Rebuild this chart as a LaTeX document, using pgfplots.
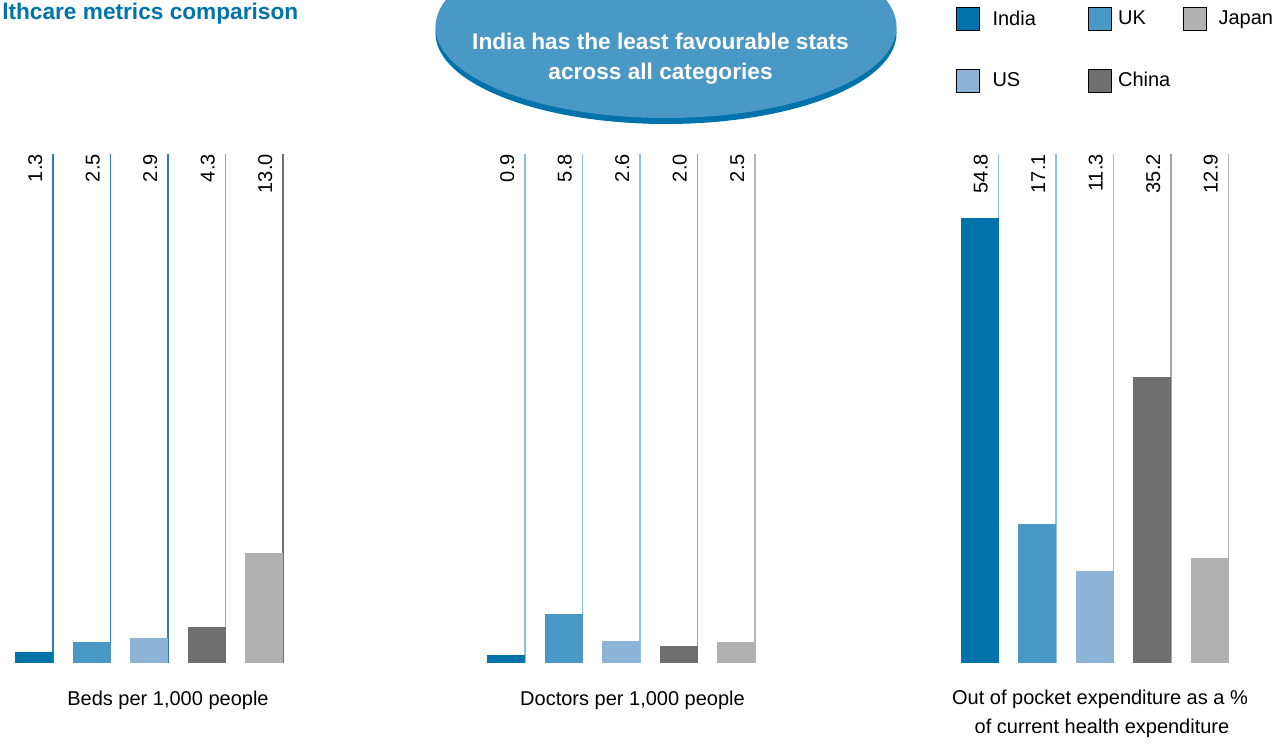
\documentclass[border=0pt]{standalone}
\usepackage{fontspec}
\setmainfont{Liberation Sans}
\usepackage{pgfplots}
\pgfplotsset{compat=1.18}
\definecolor{cIndia}{HTML}{0073AB}
\definecolor{cUK}{HTML}{4A98C6}
\definecolor{cUS}{HTML}{8DB3D7}
\definecolor{cChina}{HTML}{6F6F6F}
\definecolor{cJapan}{HTML}{B1B1B1}
\definecolor{lnBlue}{HTML}{2B7BBA}
\definecolor{lnSky}{HTML}{8AC2DF}
\definecolor{lnGrayA}{HTML}{A3A3A3}
\definecolor{lnGrayB}{HTML}{B5B5B5}
\definecolor{lnDark}{HTML}{707070}
\newcommand{\fs}{\fontsize{15}{18}\selectfont}
\pgfplotsset{
  panel/.style={
    scale only axis, width=215.625pt, height=381.75pt,
    hide axis, clip=false, xmin=-0.5, xmax=4.5, ymin=0,
    anchor=south west,
  },
  vbar/.style={ybar, bar width=28.5pt, bar shift=0pt, fill=#1, draw=none, forget plot},
  vline/.style={no marks, line width=1.1pt, draw=#1, forget plot},
}
\tikzset{vlabel/.style={rotate=90, anchor=base east, inner sep=0pt, font=\fs}}
\begin{document}
\begin{tikzpicture}
\useasboundingbox (0,0) rectangle (955.5pt,558pt);
\clip (0,0) rectangle (955.5pt,558pt);
% title
\node[anchor=base west, inner sep=0pt, text=cIndia, font=\fontsize{17}{20}\selectfont\bfseries] at (1.5pt,543pt) {lthcare metrics comparison};
% callout
\fill[cIndia] (499.5pt,533.25pt) ellipse [x radius=172.9pt, y radius=68.25pt];
\fill[cUK] (499.5pt,537.75pt) ellipse [x radius=172.9pt, y radius=68.25pt];
\node[anchor=base, inner sep=0pt, text=white, font=\fontsize{17}{20}\selectfont\bfseries] at (495.4pt,520.5pt) {India has the least favourable stats};
\node[anchor=base, inner sep=0pt, text=white, font=\fontsize{17}{20}\selectfont\bfseries] at (495.4pt,498pt) {across all categories};

% Panel 1: Beds per 1,000 people
\begin{axis}[panel, ymax=60, at={(3.94pt,60.75pt)}]
\addplot[vline=lnBlue] coordinates {(0.33,0) (0.33,60)};
\addplot[vline=lnBlue] coordinates {(1.33,0) (1.33,60)};
\addplot[vline=lnBlue] coordinates {(2.33,0) (2.33,60)};
\addplot[vline=lnGrayA] coordinates {(3.33,0) (3.33,60)};
\addplot[vline=lnDark] coordinates {(4.33,0) (4.33,60)};
\addplot[vbar=cIndia] coordinates {(0,1.3)};
\addplot[vbar=cUK] coordinates {(1,2.5)};
\addplot[vbar=cUS] coordinates {(2,2.9)};
\addplot[vbar=cChina] coordinates {(3,4.3)};
\addplot[vbar=cJapan] coordinates {(4,13.0)};
\node[vlabel] at (axis cs:0.14,60) {1.3};
\node[vlabel] at (axis cs:1.14,60) {2.5};
\node[vlabel] at (axis cs:2.14,60) {2.9};
\node[vlabel] at (axis cs:3.14,60) {4.3};
\node[vlabel] at (axis cs:4.14,60) {13.0};
\end{axis}

% Panel 2: Doctors per 1,000 people
\begin{axis}[panel, ymax=60, at={(357.94pt,60.75pt)}]
\addplot[vline=lnSky] coordinates {(0.33,0) (0.33,60)};
\addplot[vline=lnSky] coordinates {(1.33,0) (1.33,60)};
\addplot[vline=lnSky] coordinates {(2.33,0) (2.33,60)};
\addplot[vline=lnGrayA] coordinates {(3.33,0) (3.33,60)};
\addplot[vline=lnGrayB] coordinates {(4.33,0) (4.33,60)};
\addplot[vbar=cIndia] coordinates {(0,0.9)};
\addplot[vbar=cUK] coordinates {(1,5.8)};
\addplot[vbar=cUS] coordinates {(2,2.6)};
\addplot[vbar=cChina] coordinates {(3,2.0)};
\addplot[vbar=cJapan] coordinates {(4,2.5)};
\node[vlabel] at (axis cs:0.14,60) {0.9};
\node[vlabel] at (axis cs:1.14,60) {5.8};
\node[vlabel] at (axis cs:2.14,60) {2.6};
\node[vlabel] at (axis cs:3.14,60) {2.0};
\node[vlabel] at (axis cs:4.14,60) {2.5};
\end{axis}

% Panel 3: Out of pocket expenditure
\begin{axis}[panel, ymax=62.7, at={(713.06pt,60.75pt)},
  legend columns=3,
  legend cell align=left,
  legend style={at={(axis description cs:0.0183,1.2888)}, anchor=north west,
    draw=none, fill=none, inner sep=0pt, outer sep=0pt, font=\fs,
    column sep=0pt, row sep=28.5pt, nodes={inner sep=0pt}},
  legend image code/.code={\fill[#1] (0pt,-8.625pt) rectangle (17.25pt,8.625pt);},
]
\addplot[vline=lnSky] coordinates {(0.33,0) (0.33,62.7)};
\addplot[vline=lnSky] coordinates {(1.33,0) (1.33,62.7)};
\addplot[vline=lnSky] coordinates {(2.33,0) (2.33,62.7)};
\addplot[vline=lnGrayA] coordinates {(3.33,0) (3.33,62.7)};
\addplot[vline=lnGrayB] coordinates {(4.33,0) (4.33,62.7)};
\addplot[vbar=cIndia] coordinates {(0,54.8)};
\addplot[vbar=cUK] coordinates {(1,17.1)};
\addplot[vbar=cUS] coordinates {(2,11.3)};
\addplot[vbar=cChina] coordinates {(3,35.2)};
\addplot[vbar=cJapan] coordinates {(4,12.9)};
\node[vlabel] at (axis cs:0.14,62.7) {54.8};
\node[vlabel] at (axis cs:1.14,62.7) {17.1};
\node[vlabel] at (axis cs:2.14,62.7) {11.3};
\node[vlabel] at (axis cs:3.14,62.7) {35.2};
\node[vlabel] at (axis cs:4.14,62.7) {12.9};
\addlegendimage{fill=cIndia}
\addlegendentry{\hspace{9.75pt}\makebox[71.25pt][l]{India}}
\addlegendimage{fill=cUK}
\addlegendentry{\hspace{5.25pt}\makebox[48.75pt][l]{UK}}
\addlegendimage{fill=cJapan}
\addlegendentry{\hspace{9pt}Japan}
\addlegendimage{fill=cUS}
\addlegendentry{\hspace{9.75pt}\makebox[71.25pt][l]{US}}
\addlegendimage{fill=cChina}
\addlegendentry{\hspace{5.25pt}\makebox[48.75pt][l]{China}}
\end{axis}

% category labels
\node[anchor=base, inner sep=0pt, font=\fs] at (126pt,29.25pt) {Beds per 1,000 people};
\node[anchor=base, inner sep=0pt, font=\fs] at (474.4pt,29.25pt) {Doctors per 1,000 people};
\node[anchor=base, inner sep=0pt, font=\fs] at (825pt,30pt) {Out of pocket expenditure as a \%};
\node[anchor=base, inner sep=0pt, font=\fs] at (826.5pt,8.25pt) {of current health expenditure};
\end{tikzpicture}
\end{document}
